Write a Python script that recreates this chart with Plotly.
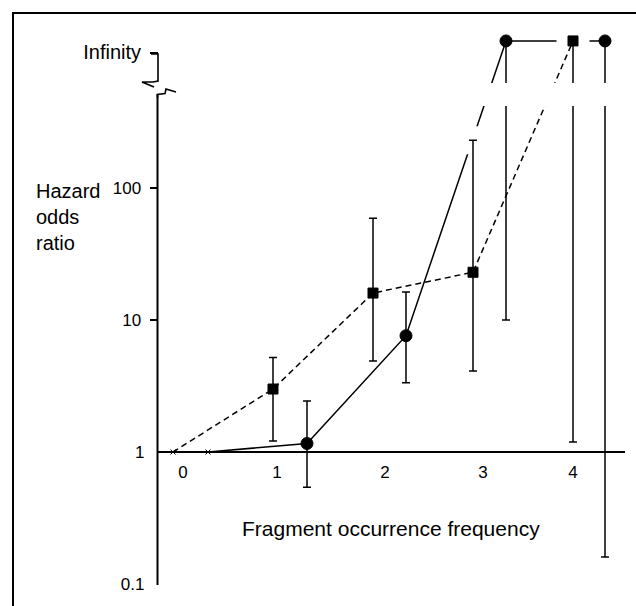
import plotly.graph_objects as go

# ---------------- data ----------------
INF = 1300          # value at which "infinite" odds ratios are plotted
INF_TICK = 1050     # position of the "Infinity" tick on the axis

sq_x = [0, 1, 2, 3, 4]
sq_y = [1, 3.0, 16, 23, INF]
sq_lo = [1, 1.21, 4.9, 4.1, 1.19]
sq_hi = [1, 5.2, 59, 230, INF]
sq_symbols = ["x-thin", "square", "square", "square", "square"]

ci_x = [0.35, 1.34, 2.33, 3.33, 4.32]
ci_y = [1, 1.16, 7.6, INF, INF]
ci_lo = [1, 0.54, 3.35, 10, 0.16]
ci_hi = [1, 2.43, 16.3, INF, INF]
ci_symbols = ["x-thin", "circle", "circle", "circle", "circle"]

# ticks drawn with a tick mark
y_tick_vals = [10, 100, INF_TICK]
y_tick_text = ["10", "100", "<span style='font-size:20px'>Infinity</span>"]
# labels shown without a tick mark
y_label_vals = [0.1, 1]
y_label_text = ["0.1", "1"]
x_tick_vals = [0.10, 1.04, 2.12, 3.10, 4.00]
x_tick_text = ["0", "1", "2", "3", "4"]

y_title_lines = ["Hazard", "odds", "ratio"]
x_title = "Fragment occurrence frequency"

# ---------------- layout helpers ----------------
W, H = 636, 606
FONT = "Liberation Sans"
Y_RANGE = [-1.1667, 3.4242]


def px(x):
    return x / W


def py(y):
    return 1 - y / H


def path(points):
    return "M " + " L ".join(f"{px(a):.5f},{py(b):.5f}" for a, b in points)


def err(vals, lo, hi):
    return ([h - v for v, h in zip(vals, hi)], [v - l for v, l in zip(vals, lo)])


fig = go.Figure()

ci_up, ci_dn = err(ci_y, ci_lo, ci_hi)
fig.add_trace(go.Scatter(
    x=ci_x, y=ci_y, mode="lines+markers",
    line=dict(color="black", width=1.5),
    marker=dict(symbol=ci_symbols, size=[5, 12, 12, 12, 12], color="black", opacity=1,
                line=dict(color="black", width=1)),
    error_y=dict(type="data", symmetric=False, array=ci_up, arrayminus=ci_dn,
                 color="black", thickness=1.5, width=4),
    showlegend=False, hoverinfo="skip",
))

# white gaps in the solid line where it passes behind square-series marks
GAP = 0.165
fig.add_trace(go.Scatter(
    x=[sq_x[4] - GAP, sq_x[4] + GAP], y=[sq_y[4], sq_y[4]], mode="lines",
    line=dict(color="white", width=6), showlegend=False, hoverinfo="skip",
))
fig.add_trace(go.Scatter(
    x=[sq_x[3] - 0.1, sq_x[3] + 0.12], y=[sq_hi[3], sq_hi[3]], mode="lines",
    line=dict(color="white", width=28), showlegend=False, hoverinfo="skip",
))

sq_up, sq_dn = err(sq_y, sq_lo, sq_hi)
fig.add_trace(go.Scatter(
    x=sq_x, y=sq_y, mode="lines+markers",
    line=dict(color="black", width=1.5, dash="6px,4px"),
    marker=dict(symbol=sq_symbols, size=[5, 10, 10, 10, 10], color="black", opacity=1,
                line=dict(color="black", width=1)),
    error_y=dict(type="data", symmetric=False, array=sq_up, arrayminus=sq_dn,
                 color="black", thickness=1.5, width=4),
    showlegend=False, hoverinfo="skip",
))

# invisible trace so the tick-less label axis is drawn
fig.add_trace(go.Scatter(x=[None], y=[None], yaxis="y2", showlegend=False, hoverinfo="skip"))

shapes = []
# outer frame
shapes.append(dict(type="rect", xref="paper", yref="paper",
                   x0=px(13), x1=px(700), y0=py(700), y1=py(13),
                   line=dict(color="black", width=2), layer="above"))
# axis break band mask
shapes.append(dict(type="rect", xref="paper", yref="paper",
                   x0=px(160), x1=px(640), y0=py(106), y1=py(83),
                   fillcolor="white", line=dict(width=0), layer="above"))
# y axis lower part
shapes.append(dict(type="path", xref="paper", yref="paper",
                   path=path([(157.5, 94), (157.5, 585)]),
                   line=dict(color="black", width=2), layer="above"))
# x baseline at odds ratio 1
shapes.append(dict(type="path", xref="paper", yref="paper",
                   path=path([(157, 452), (625, 452)]),
                   line=dict(color="black", width=2), layer="above"))
# break symbol, upper part
shapes.append(dict(type="path", xref="paper", yref="paper",
                   path=path([(151, 54), (158, 54), (158, 81), (153, 82), (142, 82), (154, 87)]),
                   line=dict(color="black", width=1.6), layer="above"))
# break symbol, lower part
shapes.append(dict(type="path", xref="paper", yref="paper",
                   path=path([(176, 92), (166, 89), (165, 93.5), (157.5, 94.5), (157.5, 98)]),
                   line=dict(color="black", width=1.6), layer="above"))

annotations = []
for i, t in enumerate(y_title_lines):
    annotations.append(dict(text=t, x=px(34), y=py(191 + 26 * i), xref="paper", yref="paper",
                            xanchor="left", yanchor="middle", showarrow=False,
                            font=dict(family=FONT, size=20, color="black")))
annotations.append(dict(text=x_title, x=px(391), y=py(528), xref="paper", yref="paper",
                        xanchor="center", yanchor="middle", showarrow=False,
                        font=dict(family=FONT, size=21, color="black")))

tickfont = dict(family=FONT, size=17, color="black")
fig.update_layout(
    width=W, height=H,
    margin=dict(l=0, r=0, t=0, b=0),
    paper_bgcolor="white", plot_bgcolor="white",
    shapes=shapes, annotations=annotations,
    xaxis=dict(range=[-1.73, 4.63], showgrid=False, zeroline=False, showline=False,
               tickmode="array", tickvals=x_tick_vals, ticktext=x_tick_text,
               ticks="", anchor="free", position=py(452), ticklabelstandoff=8,
               tickfont=tickfont),
    yaxis=dict(type="log", range=Y_RANGE, showgrid=False, zeroline=False,
               showline=False, tickmode="array", tickvals=y_tick_vals, ticktext=y_tick_text,
               ticks="outside", ticklen=8, tickwidth=2, tickcolor="black",
               anchor="free", position=px(157.5), ticklabelstandoff=5,
               tickfont=tickfont),
    yaxis2=dict(type="log", range=Y_RANGE, overlaying="y", side="left", showgrid=False,
                zeroline=False, showline=False, tickmode="array", tickvals=y_label_vals,
                ticktext=y_label_text, ticks="", anchor="free", position=px(157.5),
                ticklabelstandoff=13, tickfont=tickfont),
    font=dict(family=FONT, color="black"),
)

fig.write_html("out.html", config={"displayModeBar": False},
               post_script="document.body.style.margin='0px';")
